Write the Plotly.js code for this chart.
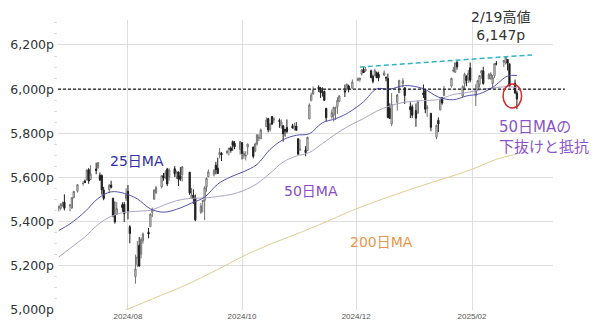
<!DOCTYPE html>
<html>
<head>
<meta charset="utf-8">
<script src="https://cdn.plot.ly/plotly-3.0.1.min.js"></script>
<style>html,body{margin:0;padding:0;background:#fff}#chart{width:600px;height:333px}</style>
</head>
<body>
<div id="chart"></div>
<script>
// ---- daily OHLC (S&P 500) ----
const dates = ['2024-06-25','2024-06-26','2024-06-27','2024-06-28','2024-07-01','2024-07-02','2024-07-03','2024-07-05','2024-07-08','2024-07-09','2024-07-10','2024-07-11','2024-07-12','2024-07-15','2024-07-16','2024-07-17','2024-07-18','2024-07-19','2024-07-22','2024-07-23','2024-07-24','2024-07-25','2024-07-26','2024-07-29','2024-07-30','2024-07-31','2024-08-01','2024-08-02','2024-08-05','2024-08-06','2024-08-07','2024-08-08','2024-08-09','2024-08-12','2024-08-13','2024-08-14','2024-08-15','2024-08-16','2024-08-19','2024-08-20','2024-08-21','2024-08-22','2024-08-23','2024-08-26','2024-08-27','2024-08-28','2024-08-29','2024-08-30','2024-09-03','2024-09-04','2024-09-05','2024-09-06','2024-09-09','2024-09-10','2024-09-11','2024-09-12','2024-09-13','2024-09-16','2024-09-17','2024-09-18','2024-09-19','2024-09-20','2024-09-23','2024-09-24','2024-09-25','2024-09-26','2024-09-27','2024-09-30','2024-10-01','2024-10-02','2024-10-03','2024-10-04','2024-10-07','2024-10-08','2024-10-09','2024-10-10','2024-10-11','2024-10-14','2024-10-15','2024-10-16','2024-10-17','2024-10-18','2024-10-21','2024-10-22','2024-10-23','2024-10-24','2024-10-25','2024-10-28','2024-10-29','2024-10-30','2024-10-31','2024-11-01','2024-11-04','2024-11-05','2024-11-06','2024-11-07','2024-11-08','2024-11-11','2024-11-12','2024-11-13','2024-11-14','2024-11-15','2024-11-18','2024-11-19','2024-11-20','2024-11-21','2024-11-22','2024-11-25','2024-11-26','2024-11-27','2024-11-29','2024-12-02','2024-12-03','2024-12-04','2024-12-05','2024-12-06','2024-12-09','2024-12-10','2024-12-11','2024-12-12','2024-12-13','2024-12-16','2024-12-17','2024-12-18','2024-12-19','2024-12-20','2024-12-23','2024-12-24','2024-12-26','2024-12-27','2024-12-30','2024-12-31','2025-01-02','2025-01-03','2025-01-06','2025-01-07','2025-01-08','2025-01-10','2025-01-13','2025-01-14','2025-01-15','2025-01-16','2025-01-17','2025-01-21','2025-01-22','2025-01-23','2025-01-24','2025-01-27','2025-01-28','2025-01-29','2025-01-30','2025-01-31','2025-02-03','2025-02-04','2025-02-05','2025-02-06','2025-02-07','2025-02-10','2025-02-11','2025-02-12','2025-02-13','2025-02-14','2025-02-18','2025-02-19','2025-02-20','2025-02-21','2025-02-24','2025-02-25'];
const openP = [5460.73,5460.71,5473.59,5488.48,5471.08,5461.84,5507.44,5537.91,5572.75,5584.24,5591.26,5635.21,5590.76,5638.16,5644.09,5610.07,5608.56,5543.37,5544.39,5565.30,5505.84,5428.70,5433.67,5476.55,5478.73,5505.59,5537.84,5376.63,5151.14,5206.42,5293.13,5252.57,5312.99,5351.83,5376.98,5442.00,5501.13,5530.50,5557.23,5608.24,5603.09,5637.77,5602.00,5639.66,5602.89,5624.51,5607.30,5612.74,5623.89,5506.68,5520.08,5507.33,5442.70,5490.51,5496.42,5557.48,5603.34,5615.14,5655.51,5641.68,5702.63,5709.18,5711.90,5727.01,5733.65,5762.22,5755.36,5726.52,5757.73,5698.14,5698.19,5737.79,5737.80,5719.14,5751.80,5778.36,5775.09,5829.81,5866.74,5816.58,5875.62,5859.43,5857.82,5832.70,5834.50,5817.80,5826.75,5833.93,5819.68,5832.65,5775.34,5723.22,5725.15,5722.43,5864.89,5947.21,5976.76,6008.86,6003.60,5985.75,5989.60,5912.79,5874.17,5882.02,5914.21,5922.08,5944.36,5992.28,6000.03,6014.11,6003.98,6040.11,6042.97,6069.39,6089.03,6081.38,6083.01,6057.59,6060.16,6074.29,6068.17,6063.79,6052.55,6047.65,5912.71,5842.00,5940.25,5984.74,6024.97,6006.17,5920.67,5919.74,5903.26,5891.07,5982.81,5993.26,5910.66,5890.66,5782.32,5859.11,5905.21,5961.34,5969.98,6014.12,6081.39,6076.32,6121.43,5969.04,6026.01,6057.70,6050.75,6096.79,5969.65,5998.14,6020.45,6072.22,6083.13,6046.40,6049.32,6025.08,6060.59,6115.52,6121.60,6117.76,6134.50,6114.82,6026.69,5982.73];
const highP = [5472.88,5483.14,5490.81,5523.64,5479.55,5509.69,5539.27,5570.33,5583.11,5590.75,5635.39,5642.45,5655.56,5666.94,5669.67,5622.49,5614.05,5557.50,5570.36,5585.34,5508.04,5491.59,5488.66,5487.74,5489.46,5551.51,5566.16,5383.89,5250.89,5312.34,5330.64,5328.03,5351.00,5371.20,5436.50,5463.22,5546.23,5561.98,5608.30,5620.51,5632.68,5643.22,5641.82,5651.62,5631.18,5627.03,5646.95,5651.37,5623.89,5552.74,5546.30,5522.47,5484.20,5497.91,5560.41,5600.71,5636.27,5636.05,5670.81,5689.75,5733.57,5715.14,5725.36,5735.32,5741.03,5767.37,5764.76,5765.14,5757.73,5719.14,5718.78,5753.04,5739.34,5757.60,5796.80,5795.03,5822.13,5871.41,5870.36,5846.52,5878.46,5872.17,5866.92,5863.04,5834.85,5817.80,5862.82,5842.92,5847.19,5850.94,5775.34,5772.52,5741.43,5783.44,5936.14,5983.84,6012.45,6017.31,6009.92,6008.19,5993.88,5915.26,5908.12,5920.67,5920.31,5963.20,5972.90,6020.75,6025.42,6020.16,6044.17,6053.58,6052.07,6089.84,6099.97,6099.94,6088.51,6065.40,6092.59,6079.68,6078.58,6085.19,6057.68,6070.67,5935.52,5982.06,5978.25,6040.10,6049.75,6006.17,5940.79,5929.74,5935.09,5949.34,6021.04,6000.68,5927.89,5890.66,5838.80,5871.92,5960.61,5964.69,6014.96,6051.51,6100.81,6118.73,6128.18,6017.17,6074.54,6062.83,6086.64,6120.91,6022.13,6042.48,6062.86,6084.03,6101.28,6073.38,6076.28,6063.75,6116.91,6127.47,6129.63,6147.43,6134.50,6114.82,6043.65,5992.65];
const lowP = [5446.56,5451.87,5467.54,5451.12,5446.53,5458.43,5507.42,5531.63,5562.51,5574.57,5586.44,5571.38,5590.44,5614.75,5639.02,5584.81,5522.81,5497.04,5529.04,5550.90,5419.98,5390.95,5430.70,5444.44,5398.82,5493.75,5410.42,5302.03,5119.26,5193.56,5195.54,5233.85,5300.44,5324.37,5376.98,5421.12,5501.13,5525.91,5550.74,5585.50,5591.57,5560.95,5585.16,5602.34,5593.48,5560.95,5583.71,5581.25,5521.21,5503.66,5480.18,5402.62,5434.49,5441.72,5406.96,5535.50,5601.65,5604.53,5614.05,5615.08,5686.42,5674.49,5704.94,5698.99,5712.06,5721.01,5727.77,5703.53,5681.28,5684.10,5677.37,5702.82,5686.85,5714.56,5745.02,5764.76,5775.09,5829.81,5804.48,5808.34,5840.25,5846.11,5824.80,5821.17,5762.41,5784.92,5799.98,5823.08,5813.53,5811.31,5702.86,5723.22,5696.51,5722.10,5864.89,5947.21,5976.76,5986.69,5960.08,5965.91,5946.00,5853.01,5865.95,5853.14,5860.58,5887.26,5944.36,5963.91,5992.27,5984.87,6003.98,6035.33,6033.39,6061.06,6079.98,6079.98,6048.63,6026.19,6060.16,6051.25,6035.77,6059.14,6035.19,5867.79,5866.07,5832.30,5902.57,5981.44,6007.37,5932.95,5869.16,5868.86,5829.53,5888.66,5960.01,5890.68,5874.78,5809.48,5773.31,5805.23,5905.21,5929.56,5969.98,6006.88,6076.13,6074.67,6088.74,5962.92,5994.63,6012.96,6027.46,6030.93,5923.93,5990.87,6007.06,6046.83,6019.96,6044.84,6042.34,6003.00,6050.96,6107.62,6099.51,6111.15,6084.59,6008.56,5977.83,5908.49];
const closeP = [5469.30,5477.90,5482.87,5460.48,5475.09,5509.01,5537.02,5567.19,5572.85,5576.98,5633.91,5584.54,5615.35,5631.22,5667.20,5588.27,5544.59,5505.00,5564.41,5555.74,5427.13,5399.22,5459.10,5463.54,5436.44,5522.30,5446.68,5346.56,5186.33,5240.03,5199.50,5319.31,5344.16,5344.39,5434.43,5455.21,5543.22,5554.25,5608.25,5597.12,5620.85,5570.64,5634.61,5616.84,5625.80,5592.18,5591.96,5648.40,5528.93,5520.07,5503.41,5408.42,5471.05,5495.52,5554.13,5595.76,5626.02,5633.09,5634.58,5618.26,5713.64,5702.55,5718.57,5732.93,5722.26,5745.37,5738.17,5762.48,5708.75,5709.54,5699.94,5751.07,5695.94,5751.13,5792.04,5780.05,5815.03,5859.85,5815.26,5842.47,5841.47,5864.67,5853.98,5851.20,5797.42,5809.86,5808.12,5823.52,5832.92,5813.67,5705.45,5728.80,5712.69,5782.76,5929.04,5973.10,5995.54,6001.35,5983.99,5985.38,5949.17,5870.62,5893.62,5916.98,5917.11,5948.71,5969.34,5987.37,6021.63,5998.74,6032.38,6047.15,6049.88,6086.49,6075.11,6090.27,6052.85,6034.91,6084.19,6051.25,6051.09,6074.08,6050.61,5872.16,5867.08,5930.85,5974.07,6040.04,6037.59,5970.84,5906.94,5881.63,5868.55,5942.47,5975.38,5909.03,5918.25,5827.04,5836.22,5842.91,5949.91,5937.34,5996.66,6049.24,6086.37,6118.71,6101.24,6012.28,6067.70,6039.31,6071.17,6040.53,5994.57,6037.88,6061.48,6083.57,6025.99,6066.44,6068.50,6051.97,6115.07,6114.63,6129.58,6144.15,6117.52,6013.13,5983.25,5955.25];

// ---- moving averages ----
const maDates = ['2024-06-25','2024-07-01','2024-07-09','2024-07-16','2024-07-23','2024-07-30','2024-08-06','2024-08-13','2024-08-20','2024-08-27','2024-09-04','2024-09-11','2024-09-18','2024-09-25','2024-10-02','2024-10-09','2024-10-16','2024-10-23','2024-10-30','2024-11-06','2024-11-13','2024-11-20','2024-11-27','2024-12-05','2024-12-12','2024-12-19','2024-12-27','2025-01-06','2025-01-14','2025-01-22','2025-01-29','2025-02-05','2025-02-12','2025-02-20','2025-02-25'];
const ma25 = [5360,5390,5445,5505,5535,5528,5503,5458,5443,5456,5484,5511,5570,5603,5627,5659,5727,5771,5791,5798,5848,5866,5894,5943,6001,6000,6016,6002,5964,5952,5969,5979,6008,6059,6062];
const ma50 = [5240,5279,5331,5387,5424,5442,5447,5452,5474,5495,5506,5507,5514,5523,5541,5572,5619,5670,5697,5713,5754,5796,5833,5867,5900,5924,5941,5948,5953,5976,5984,5997,6005,6011,6007];
const ma200Dates = ['2024-07-20','2024-07-27','2024-08-14','2024-09-01','2024-09-22','2024-09-30','2024-10-15','2024-10-31','2024-11-11','2024-12-02','2024-12-29','2025-01-31','2025-02-14','2025-02-25'];
const ma200 = [4955,4985,5050,5113,5201,5237,5294,5347,5385,5461,5543,5634,5682,5706];

// ---- reference lines / markings ----
const trendDates = ['2024-12-03','2025-03-05'];
const trendVals = [6100,6155];
const refLevel = [6000];
const circleDates = ['2025-02-17 14:00','2025-02-27 12:00'];
const circleVals = [5915,6023];

const traces = [
  {type:'scatter', mode:'lines', x:ma200Dates, y:ma200, line:{color:'#e2cb92', width:1, shape:'spline'}, hoverinfo:'skip'},
  {type:'scatter', mode:'lines', x:maDates, y:ma50, line:{color:'#aca4c6', width:1, shape:'spline'}, hoverinfo:'skip'},
  {type:'scatter', mode:'lines', x:maDates, y:ma25, line:{color:'#5252b0', width:1, shape:'spline'}, hoverinfo:'skip'},
  {type:'candlestick', x:dates, open:openP, high:highP, low:lowP, close:closeP,
   increasing:{line:{color:'#707070', width:1}, fillcolor:'#ffffff'},
   decreasing:{line:{color:'#1e1e1e', width:1}, fillcolor:'#1e1e1e'},
   whiskerwidth:0, hoverinfo:'skip'},
  {type:'scatter', mode:'lines', x:trendDates, y:trendVals, line:{color:'#34b3c3', width:1.5, dash:'5px,3px'}, hoverinfo:'skip'}
];

const font = 'DejaVu Sans, Noto Sans CJK JP, sans-serif';
const layout = {
  width:600, height:333,
  margin:{l:58, r:47, t:20, b:23},
  paper_bgcolor:'#ffffff', plot_bgcolor:'#ffffff',
  showlegend:false,
  boxgap:0.05,
  xaxis:{type:'date', range:['2024-06-24 14:00','2025-03-16 07:00'],
    tick0:'2024-08-01', dtick:'M2', tickformat:'%Y/%m',
    showgrid:true, gridcolor:'#dedede', gridwidth:1, zeroline:false, showline:false, ticks:'',
    tickfont:{family:'Liberation Sans, Arial, sans-serif', size:8, color:'#555'},
    rangeslider:{visible:false}, fixedrange:true},
  yaxis:{range:[5000,6313], tick0:5000, dtick:200, tickformat:',', ticksuffix:'p',
    showgrid:true, gridcolor:'#dedede', gridwidth:1, zeroline:false, showline:false, ticks:'',
    ticklabelstandoff:3,
    minor:{dtick:50, ticks:'outside', ticklen:3, tickcolor:'#dddddd', showgrid:false},
    tickfont:{family:font, size:12.5, color:'#333'}, fixedrange:true},
  shapes:[
    {type:'line', xref:'paper', x0:0, x1:1.024, yref:'y', y0:refLevel[0], y1:refLevel[0],
     line:{color:'#1a1a1a', width:1.2, dash:'3px,2px'}},
    {type:'circle', xref:'x', yref:'y', x0:circleDates[0], x1:circleDates[1], y0:circleVals[0], y1:circleVals[1],
     line:{color:'#d42a2a', width:1.5}}
  ],
  annotations:[
    {text:'2/19高値<br>6,147p', xref:'paper', yref:'paper', x:0.8949, y:0.9793, xanchor:'center', yanchor:'middle', align:'center', showarrow:false,
     borderpad:0, font:{family:font, size:14, color:'#333'}},
    {text:'25日MA', xref:'paper', yref:'paper', x:0.1596, y:0.5138, xanchor:'center', yanchor:'middle', showarrow:false,
     font:{family:font, size:14, color:'#2f2f9f'}},
    {text:'50日MA', xref:'paper', yref:'paper', x:0.5121, y:0.4103, xanchor:'center', yanchor:'middle', showarrow:false,
     font:{family:font, size:14, color:'#8a4cc8'}},
    {text:'200日MA', xref:'paper', yref:'paper', x:0.6545, y:0.2345, xanchor:'center', yanchor:'middle', showarrow:false,
     font:{family:font, size:14, color:'#e8954c'}},
    {text:'50日MAの<br>下抜けと抵抗', xref:'paper', yref:'paper', x:0.8869, y:0.5966, xanchor:'left', yanchor:'middle', align:'left', showarrow:false,
     font:{family:font, size:15, color:'#8a55cc'}}
  ]
};

Plotly.newPlot('chart', traces, layout, {staticPlot:true, displayModeBar:false});
</script>
</body>
</html>
